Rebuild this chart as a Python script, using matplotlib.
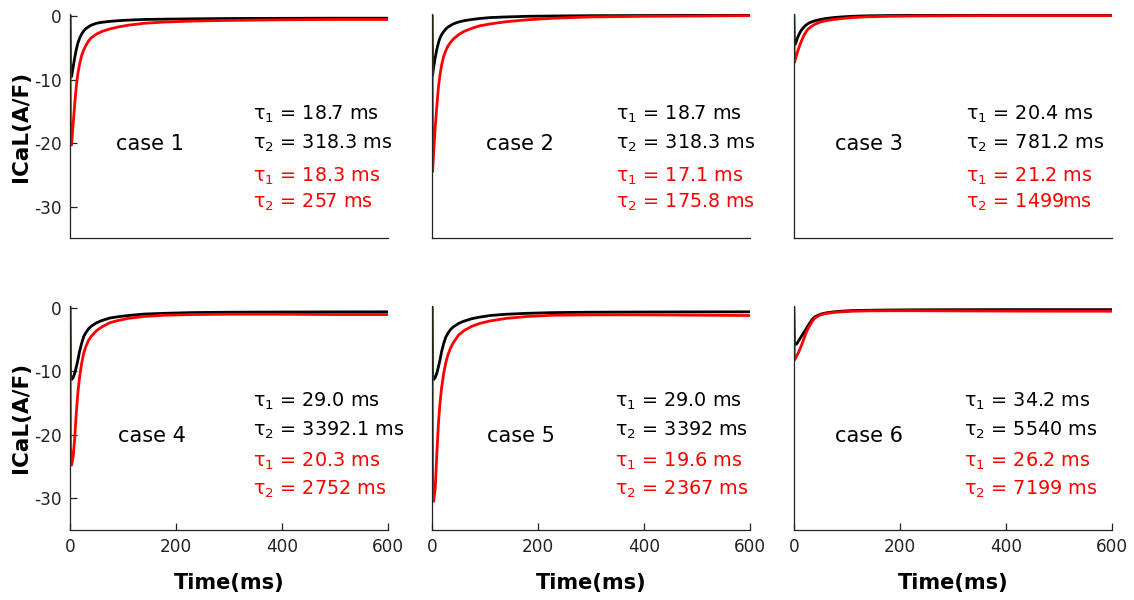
import matplotlib.pyplot as plt

plt.rcParams['font.family'] = ['DejaVu Sans']
plt.rcParams['mathtext.default'] = 'regular'
plt.rcParams['axes.unicode_minus'] = False

# sample times (ms) shared by all traces
t_ms = [0, 1, 3, 6, 9, 12, 15, 18, 22, 26, 30, 35, 40, 50, 60, 75, 90, 110,
        140, 180, 230, 300, 400, 500, 600]

# ICaL traces (A/F), black = reference model, red = modified model
case1_black = [0, -9.0, -9.5, -8.0, -6.5, -5.2, -4.2, -3.5, -2.8, -2.3, -1.95, -1.65, -1.4,
               -1.1, -0.95, -0.8, -0.7, -0.6, -0.5, -0.45, -0.4, -0.35, -0.32, -0.3, -0.3]
case1_red = [0, -19.5, -20.3, -17.0, -13.8, -11.0, -9.0, -7.6, -6.2, -5.3, -4.6, -3.9, -3.4,
             -2.8, -2.4, -2.0, -1.7, -1.4, -1.1, -0.9, -0.75, -0.65, -0.55, -0.5, -0.5]
case2_black = [0, -9.3, -8.0, -6.5, -5.2, -4.2, -3.4, -2.9, -2.4, -2.0, -1.7, -1.45, -1.2,
               -0.9, -0.7, -0.5, -0.35, -0.2, -0.1, 0.0, 0.05, 0.1, 0.12, 0.15, 0.15]
case2_red = [0, -24.5, -21.5, -17.5, -14.2, -11.2, -9.2, -7.7, -6.3, -5.4, -4.7, -4.1, -3.6,
             -2.9, -2.4, -1.9, -1.5, -1.2, -0.85, -0.55, -0.3, -0.1, 0.0, 0.05, 0.1]
case3_black = [0, -4.3, -4.4, -3.6, -3.0, -2.5, -2.1, -1.8, -1.45, -1.2, -1.0, -0.85, -0.7,
               -0.5, -0.35, -0.2, -0.1, 0.0, 0.08, 0.12, 0.15, 0.18, 0.2, 0.2, 0.2]
case3_red = [0, -7.3, -6.8, -5.9, -5.1, -4.4, -3.8, -3.2, -2.6, -2.1, -1.8, -1.5, -1.25,
             -0.9, -0.7, -0.5, -0.35, -0.2, -0.07, 0.0, 0.05, 0.08, 0.1, 0.1, 0.1]
case4_black = [0, -10.5, -11.3, -11.0, -10.3, -9.3, -8.2, -6.9, -5.6, -4.5, -3.9, -3.3, -2.9,
               -2.35, -2.0, -1.6, -1.4, -1.2, -0.97, -0.85, -0.74, -0.68, -0.65, -0.63, -0.62]
case4_red = [0, -22.0, -24.8, -23.5, -20.5, -16.5, -13.3, -11.0, -8.8, -7.1, -6.1, -5.1, -4.5,
             -3.6, -3.0, -2.35, -2.0, -1.65, -1.35, -1.15, -1.05, -1.0, -1.0, -1.05, -1.05]
case5_black = [0, -10.5, -11.3, -11.0, -10.3, -9.3, -8.2, -6.9, -5.6, -4.6, -4.0, -3.4, -3.0,
               -2.45, -2.1, -1.7, -1.45, -1.2, -1.0, -0.85, -0.74, -0.68, -0.65, -0.63, -0.62]
case5_red = [0, -27.0, -30.5, -28.5, -23.0, -18.3, -15.0, -12.6, -10.3, -8.6, -7.4, -6.3, -5.5,
             -4.3, -3.6, -2.9, -2.45, -2.05, -1.65, -1.35, -1.15, -1.1, -1.1, -1.15, -1.2]
case6_black = [0, -5.6, -5.8, -5.6, -5.2, -4.8, -4.4, -4.0, -3.5, -2.9, -2.4, -1.8, -1.4,
               -1.0, -0.8, -0.62, -0.52, -0.42, -0.37, -0.33, -0.3, -0.28, -0.27, -0.27, -0.27]
case6_red = [0, -8.2, -8.0, -7.5, -7.0, -6.4, -5.8, -5.1, -4.2, -3.4, -2.8, -2.1, -1.6,
             -1.1, -0.9, -0.72, -0.62, -0.53, -0.47, -0.45, -0.45, -0.47, -0.5, -0.52, -0.52]

black_traces = [case1_black, case2_black, case3_black, case4_black, case5_black, case6_black]
red_traces = [case1_red, case2_red, case3_red, case4_red, case5_red, case6_red]

case_names = ["case 1", "case 2", "case 3", "case 4", "case 5", "case 6"]
tau1_black = ["18.7 ms", "18.7 ms", "20.4 ms", "29.0 ms", "29.0 ms", "34.2 ms"]
tau2_black = ["318.3 ms", "318.3 ms", "781.2 ms", "3392.1 ms", "3392 ms", "5540 ms"]
tau1_red = ["18.3 ms", "17.1 ms", "21.2 ms", "20.3 ms", "19.6 ms", "26.2 ms"]
tau2_red = ["257 ms", "175.8 ms", "1499ms", "2752 ms", "2367 ms", "7199 ms"]

fig = plt.figure(figsize=(11.34, 6), dpi=100)

lefts = [0.0617, 0.381, 0.7]
bottoms = [0.603, 0.117]
w, h = 0.2804, 0.373

# text placement (x in ms, y in A/F)
tau_x = [345, 347, 325, 345, 345, 321]
case_x = [151, 166, 141, 155, 168, 141]
rows_y = [[-15.5, -20.0, -25.2, -29.4], [-14.7, -19.3, -24.2, -28.6]]

for i in range(6):
    r, c = divmod(i, 3)
    ax = fig.add_axes([lefts[c], bottoms[r], w, h])
    ax.plot(t_ms, black_traces[i], color='black', lw=2.0, solid_joinstyle='round')
    ax.plot(t_ms, red_traces[i], color='#ff0000', lw=2.0, solid_joinstyle='round')
    ax.set_xlim(0, 600)
    ax.set_ylim(-35, 0.3)
    for s in ['top', 'right']:
        ax.spines[s].set_visible(False)
    for s in ['left', 'bottom']:
        ax.spines[s].set_linewidth(0.9)
        ax.spines[s].set_color('#222222')
    ax.tick_params(direction='in', length=5, width=0.9, labelsize=12.2,
                   colors='#222222', labelcolor='#222222', pad=6)
    ax.set_xticks([0, 200, 400, 600])
    ax.set_yticks([0, -10, -20, -30])
    if r == 0:
        ax.tick_params(axis='x', bottom=False, labelbottom=False)
    else:
        ax.set_xlabel('Time(ms)', fontsize=15, fontweight='bold', labelpad=12)
    if c == 0:
        ax.set_ylabel('ICaL(A/F)', fontsize=15.5, fontweight='bold', labelpad=2)
    else:
        ax.tick_params(axis='y', left=False, labelleft=False)

    ys = rows_y[r]
    ax.text(case_x[i], -20.2, case_names[i], fontsize=15, ha='center', va='center')
    ax.text(tau_x[i], ys[0], r'$\tau_1$ = ' + tau1_black[i], fontsize=13.8, va='center')
    ax.text(tau_x[i], ys[1], r'$\tau_2$ = ' + tau2_black[i], fontsize=13.8, va='center')
    ax.text(tau_x[i], ys[2], r'$\tau_1$ = ' + tau1_red[i], fontsize=13.8, va='center', color='#ff0000')
    ax.text(tau_x[i], ys[3], r'$\tau_2$ = ' + tau2_red[i], fontsize=13.8, va='center', color='#ff0000')

fig.savefig('out.png', dpi=100)
